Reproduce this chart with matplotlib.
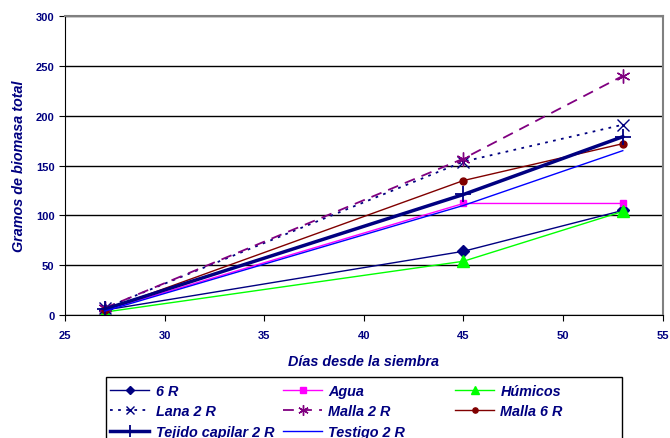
import matplotlib.pyplot as plt
from matplotlib.patches import Rectangle

# ================= Data Section =================
dias = [27, 45, 53]

r6 = [5, 64, 105]
agua = [5, 112, 112]
humicos = [3, 54, 104]
lana_2r = [7, 154, 191]
malla_2r = [7, 157, 240]
malla_6r = [5, 135, 172]
tejido_2r = [6, 121, 179]
testigo_2r = [4, 110, 165]

# ================= Style Configuration =================
navy = '#000080'
plt.rcParams.update({
    'font.family': ['Liberation Sans', 'DejaVu Sans'],
    'font.weight': 'bold',
})

W, H = 670, 439
fig = plt.figure(figsize=(W / 100, H / 100), dpi=100)
ax = fig.add_axes([0.097, 0.280, 0.892, 0.681])

# ================= Plotting =================
h_6r, = ax.plot(dias, r6, color=navy, lw=1, marker='D', ms=6, label='6 R')
h_agua, = ax.plot(dias, agua, color='#FF00FF', lw=1, marker='s', ms=5, label='Agua')
h_hum, = ax.plot(dias, humicos, color='#00FF00', lw=1, marker='^', ms=8, label='Húmicos')
h_lana, = ax.plot(dias, lana_2r, color=navy, lw=1.3, ls=(0, (1.5, 3)), marker='x', ms=8,
                  mew=1, label='Lana 2 R')
h_m2, = ax.plot(dias, malla_2r, color='#800080', lw=1.3, ls=(0, (6, 4)), marker=(6, 2, 0),
                ms=10, mew=1, label='Malla 2 R')
h_m6, = ax.plot(dias, malla_6r, color='#800000', lw=1, marker='o', ms=5, label='Malla 6 R')
h_tej, = ax.plot(dias, tejido_2r, color=navy, lw=2.5, marker='+', ms=12, mew=1.3,
                 label='Tejido capilar 2 R')
h_test, = ax.plot(dias, testigo_2r, color='#0000FF', lw=1, label='Testigo 2 R')

# ================= Axes and Grid =================
ax.set_xlim(25, 55)
ax.set_ylim(0, 300)
ax.set_xticks(range(25, 56, 5))
ax.set_yticks(range(0, 301, 50))
ax.yaxis.grid(True, color='black', lw=1)
ax.set_axisbelow(True)
for side in ['top', 'right']:
    ax.spines[side].set_color('#808080')
    ax.spines[side].set_linewidth(1.5)
for side in ['left', 'bottom']:
    ax.spines[side].set_color('black')
ax.tick_params(axis='both', direction='out', length=4, colors='black',
               labelcolor=navy, labelsize=8)
ax.tick_params(axis='x', pad=7)
for lbl in ax.get_xticklabels() + ax.get_yticklabels():
    lbl.set_fontweight('bold')

ax.set_xlabel('Días desde la siembra', color=navy, fontsize=10.4, fontweight='bold',
              fontstyle='italic', labelpad=10)
ax.set_ylabel('Gramos de biomasa total', color=navy, fontsize=10.4, fontweight='bold',
              fontstyle='italic', labelpad=7)

# ================= Legend =================
# frame drawn separately so the three columns can have equal widths
fig.patches.append(Rectangle((106 / W, -0.05), 516 / W, 0.05 + 1 - 378 / H,
                             transform=fig.transFigure, fill=False,
                             edgecolor='black', lw=1))
columns = [([h_6r, h_lana, h_tej], 110),
           ([h_agua, h_m2, h_test], 283),
           ([h_hum, h_m6], 455)]
for col_handles, x_px in columns:
    leg = fig.legend(handles=col_handles, labels=[h.get_label() for h in col_handles],
                     loc='upper left', bbox_to_anchor=(x_px / W, 1 - 385 / H),
                     frameon=False, borderpad=0, borderaxespad=0, handlelength=2.7,
                     handletextpad=0.45, labelspacing=0.45, markerscale=0.75,
                     prop={'size': 10.4, 'weight': 'bold', 'style': 'italic'})
    for t in leg.get_texts():
        t.set_color(navy)

fig.savefig('out.png', dpi=100)
